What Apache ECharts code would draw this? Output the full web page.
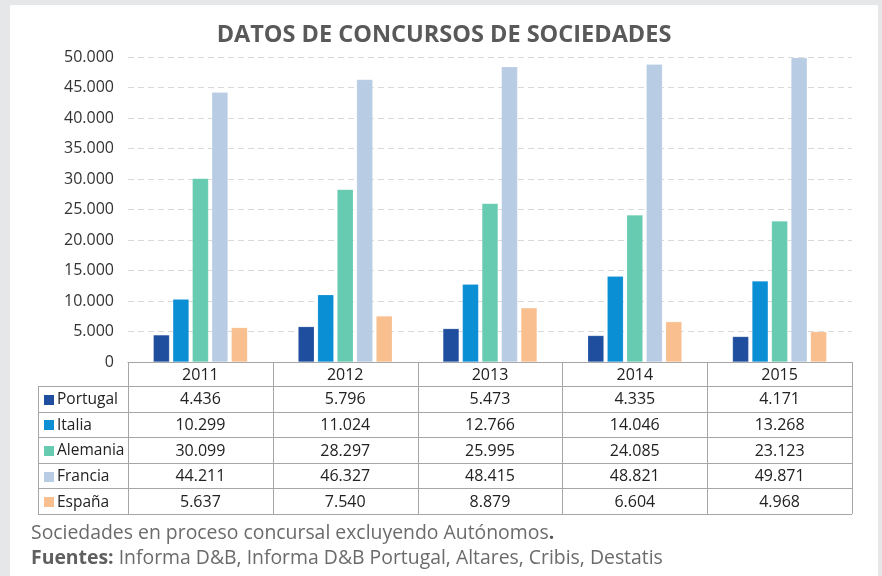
<!DOCTYPE html>
<html>
<head>
<meta charset="utf-8">
<script src="https://cdn.jsdelivr.net/npm/echarts@6/dist/echarts.min.js"></script>
<style>
html,body{margin:0;padding:0;background:#e6e7e9;}
#panel{position:absolute;left:10px;top:5px;width:868px;height:571px;background:#fff;}
#chart{position:absolute;left:0;top:0;width:882px;height:576px;}
</style>
</head>
<body>
<div id="panel"></div>
<div id="chart"></div>
<script>
const title = 'DATOS DE CONCURSOS DE SOCIEDADES';
const years = ['2011', '2012', '2013', '2014', '2015'];
const seriesNames = ['Portugal', 'Italia', 'Alemania', 'Francia', 'España'];
const portugal = [4436, 5796, 5473, 4335, 4171];
const italia = [10299, 11024, 12766, 14046, 13268];
const alemania = [30099, 28297, 25995, 24085, 23123];
const francia = [44211, 46327, 48415, 48821, 49871];
const espana = [5637, 7540, 8879, 6604, 4968];
const seriesValues = [portugal, italia, alemania, francia, espana];
const seriesColors = ['#1f4e9e', '#0a8ed4', '#66cbb0', '#b8cce4', '#f9bf8f'];
const footnote1 = 'Sociedades en proceso concursal excluyendo Autónomos';
const footnote2Bold = 'Fuentes:';
const footnote2 = ' Informa D&B, Informa D&B Portugal, Altares, Cribis, Destatis';

const FONT = '"Open Sans", "Noto Sans", sans-serif';
function fmt(v) {
  return String(v).replace(/\B(?=(\d{3})+(?!\d))/g, '.');
}

const chart = echarts.init(document.getElementById('chart'), null, {renderer: 'canvas'});
const option = {
  backgroundColor: 'transparent',
  animation: false,
  title: {
    text: title, left: 439, top: 18, textAlign: 'center',
    textStyle: {fontFamily: FONT, fontSize: 23.5, fontWeight: 'bold', color: '#595959'}
  },
  grid: {left: 128, right: 30, top: 57, bottom: 214},
  xAxis: {
    type: 'category', data: years,
    axisLine: {show: true, lineStyle: {color: '#a6a6a6', width: 1}},
    axisTick: {show: false},
    axisLabel: {show: false}
  },
  yAxis: {
    type: 'value', min: 0, max: 50000, interval: 5000,
    axisLine: {show: false}, axisTick: {show: false},
    axisLabel: {formatter: fmt, fontFamily: FONT, fontSize: 16, color: '#333', margin: 14},
    splitLine: {lineStyle: {color: '#d9d9d9', type: [6, 4], width: 1}}
  },
  series: seriesNames.map((n, i) => ({
    name: n, type: 'bar', data: seriesValues[i],
    barCategoryGap: '35%', barGap: '21%',
    itemStyle: {color: seriesColors[i], borderColor: 'rgba(255,255,255,0.35)', borderWidth: 0.5}
  }))
};
chart.setOption(option);

// Data table below the chart, aligned with the category axis
const zeroPix = chart.convertToPixel({yAxisIndex: 0}, 0);
const c0 = chart.convertToPixel({xAxisIndex: 0}, 0);
const c1 = chart.convertToPixel({xAxisIndex: 0}, 1);
const band = c1 - c0;
const colLeft = c0 - band / 2;
const colRight = colLeft + band * years.length;
const tableLeft = 38;
const headerH = 24;
const rowH = 25.6;
const lineColor = '#a6a6a6';
const g = [];
function hline(x1, x2, y) {
  y = Math.round(y) + 0.5;
  g.push({type: 'line', shape: {x1, y1: y, x2, y2: y}, style: {stroke: lineColor, lineWidth: 1}, silent: true});
}
function vline(x, y1, y2) {
  x = Math.round(x) + 0.5;
  g.push({type: 'line', shape: {x1: x, y1, x2: x, y2}, style: {stroke: lineColor, lineWidth: 1}, silent: true});
}
const tableTop = zeroPix;
const bodyTop = tableTop + headerH;
const tableBottom = bodyTop + rowH * seriesNames.length;
hline(colLeft, colRight, tableTop);
for (let r = 0; r <= seriesNames.length; r++) hline(tableLeft, colRight, bodyTop + r * rowH);
vline(tableLeft, bodyTop, tableBottom);
for (let c = 0; c <= years.length; c++) vline(colLeft + c * band, tableTop, tableBottom);
years.forEach((yv, c) => {
  g.push({type: 'text', x: colLeft + band * (c + 0.5), y: tableTop + headerH / 2 + 1,
    style: {text: yv, fontFamily: FONT, fontSize: 16, fill: '#222', align: 'center', verticalAlign: 'middle'}});
});
seriesNames.forEach((n, r) => {
  const cy = bodyTop + rowH * (r + 0.5) + 1;
  g.push({type: 'rect', shape: {x: 44, y: Math.round(cy - 5), width: 10, height: 10}, style: {fill: seriesColors[r]}});
  g.push({type: 'text', x: 57, y: cy,
    style: {text: n, fontFamily: FONT, fontSize: 15.5, fill: '#222', align: 'left', verticalAlign: 'middle'}});
  seriesValues[r].forEach((v, c) => {
    g.push({type: 'text', x: colLeft + band * (c + 0.5), y: cy,
      style: {text: fmt(v), fontFamily: FONT, fontSize: 16, fill: '#222', align: 'center', verticalAlign: 'middle'}});
  });
});
g.push({type: 'text', x: 31, y: 533,
  style: {rich: {a: {fontFamily: FONT, fontSize: 19.4, fill: '#6b6b6b'}, b: {fontFamily: FONT, fontSize: 19.4, fontWeight: 'bold', fill: '#555'}},
    text: '{a|' + footnote1 + '}{b|.}', verticalAlign: 'middle'}});
g.push({type: 'text', x: 31, y: 558,
  style: {rich: {a: {fontFamily: FONT, fontSize: 19.4, fill: '#6b6b6b'}, b: {fontFamily: FONT, fontSize: 19.4, fontWeight: 'bold', fill: '#5f5f5f'}},
    text: '{b|' + footnote2Bold + '}{a|' + footnote2 + '}', verticalAlign: 'middle'}});
chart.setOption({graphic: {elements: g}});
</script>
</body>
</html>
